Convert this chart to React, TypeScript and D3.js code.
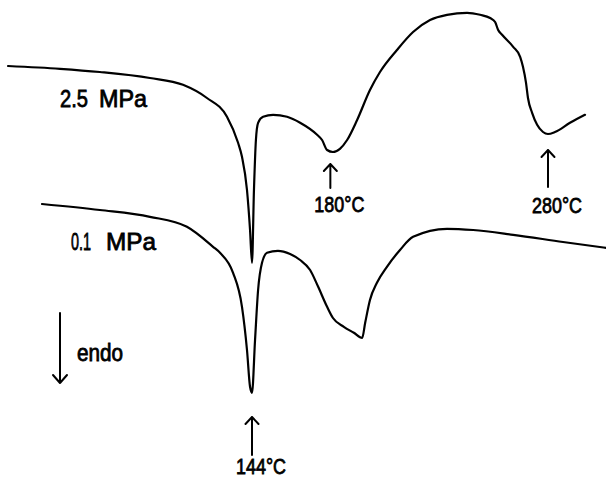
import { useEffect, useRef } from 'react';
import * as d3 from 'd3';

// temperature (°C) and heat flow (a.u.)
const tempHigh = [31.9, 55.8, 74.1, 97.1, 112.3, 123.3, 132.5, 137.6, 139.4, 141.7, 143.1, 144, 144.9, 145.8, 146.8, 149.1, 153.7, 160.1, 166.1, 173.9, 176.2, 178.5, 181.2, 184.4, 187.7, 192.3, 198.2, 202.8, 210.6, 218.0, 225.8, 233.6, 242.8, 248.8, 253.4, 255.7, 257.1, 258.9, 264.0, 267.2, 268.5, 269.9, 270.8, 272.7, 275.0, 277.7, 280.0, 283.2, 290.1, 297.0];
const flowHigh = [83.5, 82.8, 82, 80.5, 78.8, 75.5, 70.8, 64.3, 60.8, 52.5, 42.5, 34.3, 52.5, 65, 69.3, 70.8, 71.3, 70.8, 69.3, 66.3, 65, 62.5, 62, 62.8, 65, 70, 77.5, 82, 87.5, 92, 95, 96.3, 96.8, 96.3, 95.5, 94.5, 92.5, 91.3, 88.3, 85.8, 83.3, 79.3, 75.5, 71.8, 68.8, 67, 66.5, 67, 69.3, 71.3];

const tempLow = [47.5, 74.1, 97.1, 114.1, 126.1, 129.3, 135.3, 139.4, 141.7, 143.1, 144, 145.4, 146.8, 148.6, 150.9, 155.9, 161.5, 166.1, 170.7, 174.4, 178.5, 181.2, 186.2, 190.8, 194.6, 196.0, 198.2, 201.4, 206.0, 212.0, 218.0, 233.6, 245.6, 264.0, 286.9, 307.1];
const flowLow = [49, 47.5, 45.8, 43.3, 38.3, 36.8, 31.8, 23.3, 12.5, 3.3, 1.8, 15, 27.5, 34.3, 36.8, 37.3, 36.5, 35, 32.5, 28.3, 23.3, 20.5, 18.3, 16.8, 15.5, 19.3, 25, 29.3, 33.3, 37.5, 40.8, 42.8, 42.5, 41.3, 39.5, 38];

const pressures = ['2.5', '0.1'];
const pressureUnit = 'MPa';
const peakTemps = [144, 180, 280];

export default function App() {
  const ref = useRef<SVGSVGElement>(null);

  useEffect(() => {
    const svg = d3.select(ref.current);
    svg.selectAll('*').remove();
    const width = 606, height = 478;

    const x = d3.scaleLinear().domain([144, 280]).range([252, 548]);
    const y = d3.scaleLinear().domain([0, 100]).range([400, 0]);

    const line = d3.line<[number, number]>()
      .x(d => x(d[0])).y(d => y(d[1]))
      .curve(d3.curveMonotoneX);

    const series = [
      d3.zip(tempHigh, flowHigh) as [number, number][],
      d3.zip(tempLow, flowLow) as [number, number][],
    ];

    svg.attr('width', width).attr('height', height);
    svg.append('rect').attr('width', width).attr('height', height).attr('fill', '#fff');

    svg.selectAll('.curve').data(series).enter().append('path')
      .attr('d', d => line(d))
      .attr('fill', 'none').attr('stroke', '#000')
      .attr('stroke-width', 2.2).attr('stroke-linejoin', 'round').attr('stroke-linecap', 'round');

    const font = "'Liberation Sans', Arial, sans-serif";
    // lettering is a narrow stencil style, so fit each text to its width
    const txt = (tx: number, ty: number, s: string, size: number, len: number) =>
      svg.append('text').attr('x', tx).attr('y', ty).text(s)
        .attr('textLength', len).attr('lengthAdjust', 'spacingAndGlyphs')
        .style('font-family', font).style('font-size', `${size}px`)
        .attr('fill', '#000').attr('stroke', '#000').attr('stroke-width', 0.8);

    // pressure labels
    txt(60, 107, pressures[0], 24, 28);
    txt(99, 107, pressureUnit, 24, 48);
    txt(71, 250, pressures[1], 24, 20);
    txt(106, 250, pressureUnit, 24, 50);

    // arrows: [temperature, tip y, tail y, label baseline]
    const arrows: [number, number, number, number][] = [
      [peakTemps[0], 417, 455, 474],
      [peakTemps[1], 164, 188, 212],
      [peakTemps[2], 150, 187, 213],
    ];
    const ag = svg.append('g').attr('stroke', '#000').attr('stroke-width', 2).attr('fill', 'none')
      .attr('stroke-linecap', 'round').attr('stroke-linejoin', 'round');
    arrows.forEach(([t, tip, tail, base]) => {
      const ax = x(t);
      ag.append('path').attr('d', `M${ax},${tail}V${tip}M${ax - 6.5},${tip + 7}L${ax},${tip}L${ax + 6.5},${tip + 7}`);
      txt(ax - 16, base, `${t}°C`, 22, 50);
    });

    // endo arrow
    ag.append('path').attr('d', 'M60,313V383M53,375L60,383L67,375');
    txt(77, 361, 'endo', 23, 46);
  }, []);

  return <svg ref={ref} style={{ position: 'absolute', left: 0, top: 0, display: 'block' }} />;
}
